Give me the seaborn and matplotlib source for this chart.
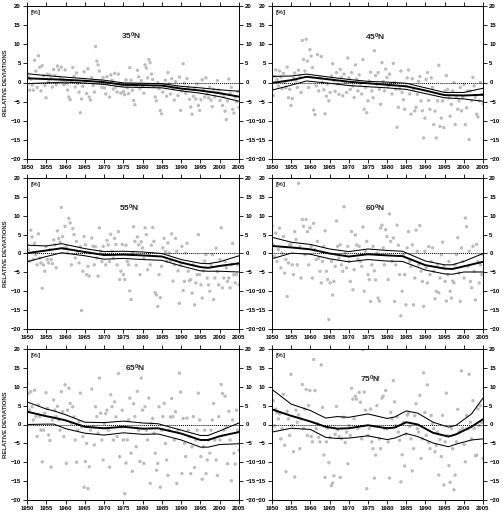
import numpy as np
import matplotlib
matplotlib.use("Agg")
import matplotlib.pyplot as plt
import seaborn as sns

# ---------------- data ----------------
titles = ["35", "45", "55", "60", "65", "75"]

# scatter values, ~3 per year 1950..2005
pts35 = [2.7, 1.5, -2.0, 0.9, -0.7, -2.0, 5.8, 3.0, -1.3, 7.0, 4.0, -2.2, 4.4, 1.8, -0.8,
         -4.0, 2.2, 0.2, 2.0, 1.0, -1.2, 3.4, 1.8, -0.6, 4.3, 3.3, 1.0, 4.0, 0.8, -0.6,
         3.3, -0.3, -2.0, -3.8, -4.5, 0.5, 3.9, 1.6, -1.2, 2.5, -0.2, -2.5, -7.9, -4.3, -1.0,
         2.8, 0.4, -2.9, 3.6, -3.8, -4.6, 1.3, -0.8, -2.5, 9.4, 5.6, 4.6, 3.0, 0.5, -1.3,
         1.3, -1.4, -3.0, 1.5, -0.3, -3.8, 2.0, 0.6, -1.7, 2.4, -1.2, -2.5, 2.2, -0.3, -2.8,
         -0.7, -2.4, -3.2, 0.7, -1.4, -2.9, 3.9, 0.6, -2.0, -4.7, -5.8, -0.8, 3.2, 1.5, -1.6,
         0.5, -1.0, -2.8, 4.6, 3.8, 1.2, 6.0, 5.2, 2.2, 0.8, -1.0, -3.8, -4.8, 0.0, -1.6,
         -7.3, -8.2, -2.5, -0.6, 0.6, -3.6, 2.6, -0.3, -3.0, 1.0, -1.6, -4.6, 0.2, -1.2, -3.4,
         1.4, -7.3, -2.2, 4.9, -0.2, -2.8, 1.0, -1.2, -4.4, -6.4, -8.3, -3.6, -1.4, -4.3, -0.4,
         -6.0, -7.3, -4.5, 0.7, -2.0, -3.8, 1.2, -3.0, -4.0, -1.2, -4.6, -6.3, -1.8, -3.8, -2.6,
         0.5, -2.0, -4.7, -2.9, -6.0, -3.7, -7.5, -9.7, -4.8, 0.9, -2.8, -1.3, -7.0, -8.0, -3.8,
         -5.0, -2.3, -6.5]
pts45 = [-1.8, -3.4, 1.6, 3.3, 0.8, -0.9, 3.0, 1.4, -1.6, 2.4, 0.0, -1.4, 4.0, -4.0, -1.8,
         -6.0, -4.2, 1.2, 2.5, 0.4, -1.3, 3.2, 1.8, -2.6, 11.0, 6.0, 3.0, 11.3, 5.6, -1.3,
         8.6, 6.9, 3.9, -7.2, -8.4, -0.9, 7.3, -2.2, 1.2, 6.8, 0.0, -1.9, -8.2, -3.6, -0.4,
         -4.8, -2.6, 1.7, 4.9, 0.4, -2.3, 2.6, -0.4, -3.1, 3.4, 1.3, -3.5, 2.2, 0.0, -2.6,
         6.4, 1.2, -1.8, 2.6, -0.9, -3.9, 4.6, 0.9, -2.2, 2.0, -0.4, -3.0, 6.0, -7.0, -1.3,
         -7.9, -4.8, 0.4, 2.7, -2.2, -4.0, 8.3, 1.8, -0.4, 2.6, -1.8, -5.7, 5.2, 0.3, -2.2,
         3.5, 1.3, -0.9, 2.2, -0.4, -3.0, 5.0, 0.0, -1.8, -11.7, -6.5, -1.7, 3.0, -2.6, -4.5,
         -7.0, -0.9, 1.2, 3.3, -3.0, -8.3, 1.0, -1.8, -7.4, -6.5, -3.1, 0.3, 1.6, -4.8, -7.4,
         -14.5, -9.3, 0.8, 2.6, -4.7, -7.0, 1.2, -1.3, -11.0, -7.5, -14.5, -4.8, 4.5, -11.5, -9.3,
         -4.8, -11.8, -2.2, 1.8, -1.8, -4.0, -8.8, -5.7, -2.2, 0.0, -11.0, -3.9, -7.0, -4.8, -1.3,
         -7.4, -3.9, -0.5, -11.0, -6.6, -2.2, -14.9, -2.2, -4.8, 1.3, -0.9, -3.9, -8.3, -9.0, -4.8,
         0.0, -3.1, -5.6]
pts55 = [2.3, 1.0, -2.0, 6.2, 4.4, -1.6, 2.7, -0.3, -3.0, 5.2, -1.2, -2.5, -9.2, -3.0, -4.7,
         1.9, -1.6, -2.5, 1.0, -1.6, -2.7, 3.6, 2.3, -3.8, 6.0, 4.0, 3.0, 12.2, 4.5, 1.4,
         7.2, 1.8, 0.1, 9.3, 8.1, -3.0, 6.6, 5.0, -1.2, 3.2, 0.5, -2.5, 1.8, -15.1, -4.7,
         4.5, 2.3, -5.6, -3.4, -6.0, 0.1, 4.1, 1.9, -3.0, 1.8, -1.2, -6.0, 6.8, 0.6, -2.1,
         1.9, -0.3, -3.0, 3.5, 2.3, -2.1, 5.1, 0.6, -1.2, 4.0, 2.4, -3.0, 5.8, -6.9, -4.7,
         2.4, -5.6, -6.9, 2.2, -2.1, -3.0, -9.9, -12.2, 0.2, 7.1, 3.2, -3.1, 4.4, 2.3, -5.6,
         3.1, 1.5, -1.2, 6.8, 5.0, -4.3, -0.4, -3.0, 2.2, 6.9, 3.2, -10.4, -11.0, -14.0, -5.6,
         -11.7, -3.4, 1.5, 4.0, 0.5, -2.1, 2.8, 0.1, -2.0, 5.2, -7.3, -3.0, 4.0, 0.6, -4.6,
         -13.2, -3.0, 1.9, -9.8, -7.4, 0.1, 2.7, -4.7, -7.2, -6.9, -10.5, -3.0, -13.6, -7.8, -5.6,
         5.0, -5.6, -8.3, -11.8, -4.6, -2.0, -0.3, -6.5, -8.3, -10.0, -3.0, -0.3, -12.2, -6.5, 1.4,
         -4.8, -8.3, -1.6, 6.8, -9.1, -6.5, -2.1, -3.8, -7.4, -6.5, -9.1, -3.0, 2.7, -5.6, -7.8,
         -5.6, -3.0, -8.3]
pts60 = [7.2, 2.3, -0.8, 5.4, -2.1, 1.0, 6.7, -3.8, 0.1, 4.5, -5.2, -1.6, -11.4, -2.5, 2.3,
         2.3, -3.0, -5.6, 5.8, 3.7, -3.0, 18.6, 1.8, -6.5, 9.0, 7.2, -0.3, 9.0, 5.8, -3.0,
         6.8, 1.9, -6.5, 8.0, 1.0, -1.6, 3.2, -1.2, -4.7, -7.8, -2.1, 1.9, 6.0, -4.7, -6.9,
         -17.5, -7.8, -2.1, -11.0, -7.4, -3.4, 8.6, 1.9, -1.2, 2.3, -3.0, -4.7, 12.4, 0.1, -3.8,
         1.9, -2.1, -7.4, 5.8, -9.6, -4.3, 4.9, 2.3, -1.6, 1.9, -2.1, -3.4, 7.0, -10.0, 0.6,
         3.2, -5.6, -6.9, -12.7, -3.0, 1.9, -4.6, -7.0, 0.1, -11.8, -12.6, 6.7, 7.5, 1.5, -3.0,
         6.3, 4.5, -6.9, 10.5, 3.2, -2.1, 4.1, -12.7, -3.0, 7.5, 2.2, -5.6, -16.5, -10.0, -0.3,
         -5.6, -13.6, 1.5, 5.8, -2.1, -3.4, 2.3, -13.6, -6.5, 6.2, 0.6, -3.0, 7.4, -4.7, -7.4,
         -14.0, 0.6, -3.8, -7.8, 1.8, -5.6, -2.1, 1.5, -4.7, -12.0, -10.0, -3.0, -10.4, -6.5, -0.3,
         3.0, -3.4, -7.4, -12.6, -5.6, -2.1, -10.0, -11.8, -7.3, -7.8, -3.0, -0.3, 4.2, -5.2, -12.7,
         1.5, -2.1, -6.5, 9.4, 7.1, -3.4, 0.6, -7.4, -9.1, 1.9, -4.7, -12.3, 2.4, -2.1, -7.8,
         -3.0, -5.6, -0.3]
pts65 = [10.8, 8.2, 3.8, 8.7, 4.7, 1.2, 9.1, 2.1, -3.2, 5.2, 2.1, -1.5, -9.9, -1.5, 3.0,
         8.4, 4.3, -2.8, -4.2, -11.3, 1.2, 6.5, 3.8, 2.1, 4.8, 1.2, -1.5, 8.7, 3.4, -3.2,
         10.5, -10.3, 3.8, 9.6, 5.6, 0.3, 4.7, 2.0, -4.1, -10.0, -1.5, 0.8, 8.3, -0.6, -3.2,
         -16.6, -9.8, -5.0, -17.0, -11.2, -1.5, 9.4, -0.6, -5.4, 4.7, 2.1, -2.3, 12.3, 3.0, -4.1,
         -9.4, 0.3, 2.9, 3.8, -1.5, -11.3, 7.9, 4.7, -4.1, 6.0, 2.0, -3.2, 13.5, -8.5, -0.6,
         3.8, -4.1, -18.3, -10.2, -4.1, 1.2, 7.0, -7.6, -12.4, 5.5, 2.1, -5.9, 8.8, -1.5, -9.8,
         12.3, 3.8, -10.3, 4.7, -1.5, -4.1, 7.0, -15.6, 0.3, 1.6, -2.3, -7.6, -12.1, -10.3, 4.7,
         -16.6, -1.5, 2.1, 5.6, -5.0, -9.4, -13.5, -1.5, 2.0, 6.9, 2.1, -4.1, 3.4, -15.6, -1.5,
         13.6, 8.6, -13.0, 1.6, -5.0, -8.5, 1.7, -1.5, -3.2, -13.0, -5.9, 2.1, -11.4, -4.1, -1.5,
         8.3, 1.2, -8.5, -14.5, -5.9, -1.5, -13.0, -9.4, -4.1, -7.6, -1.5, 1.2, 5.6, -4.1, -9.4,
         -13.5, 2.1, -4.1, 10.6, 8.2, -1.5, 7.5, -0.6, -10.4, 3.5, -4.1, -14.9, 1.2, -7.6, -10.5,
         3.8, -1.5, -6.8]
pts75 = [12.3, 6.3, -0.3, 4.1, 3.2, 1.5, 2.8, -3.8, -1.1, 8.0, -5.5, -12.5, 3.5, 1.5, -2.9,
         13.3, -0.3, -7.2, -13.9, 3.8, 0.6, 2.5, -6.4, 1.5, 10.6, -1.1, 4.1, 9.3, -2.9, 5.0,
         9.0, -3.2, -4.6, 17.2, 9.0, -1.1, 0.2, -3.4, -4.6, 15.8, 4.5, -8.1, -14.0, -4.6, -1.0,
         -10.1, -3.5, -16.2, -15.5, -13.6, -2.6, 4.8, -1.4, -3.2, -14.0, -3.8, 1.9, 1.9, -4.8, -2.0,
         -10.4, -0.3, -2.9, 9.6, 6.7, 1.5, 7.5, 6.7, -1.1, 8.5, 5.9, -3.8, 19.8, 8.6, 3.8,
         -17.0, -2.9, -1.1, 4.1, -4.6, -6.4, -14.2, -8.1, 5.0, 12.5, -3.8, -6.4, 7.0, 7.5, -1.1,
         9.0, -1.1, -4.6, -14.2, 3.2, 1.5, 11.6, 6.0, -0.3, 2.0, -2.0, -4.2, -15.2, -8.0, 0.5,
         -11.0, -2.5, 2.5, 3.0, -0.5, -3.8, -12.3, -6.4, 2.3, 5.5, -1.1, -2.0, 7.7, -9.0, -3.8,
         13.7, 3.2, -2.9, 10.5, -4.8, -6.4, 2.4, 0.2, -1.1, -7.2, -5.5, -2.0, -13.4, -4.0, -8.5,
         2.4, -16.0, -4.6, 8.3, -2.9, -10.9, -15.3, -1.1, -6.4, -17.3, -13.4, -4.6, 4.0, -2.0, -1.5,
         14.2, -1.0, -5.3, -9.9, 2.4, -1.1, 13.3, 0.6, -3.8, 6.3, -1.1, -8.3, -8.1, 4.1, -0.3,
         5.0, 0.5, -9.0]

# trend curve (thick) and confidence bounds (thin)
yrs35 = [1950, 1955, 1960, 1964, 1970, 1975, 1980, 1985, 1990, 1995, 2000, 2005]
up35 = [2.3, 1.8, 1.4, 1.1, 0.6, -0.1, -0.2, -0.3, -1.0, -1.4, -1.9, -2.3]
mid35 = [1.1, 0.9, 0.7, 0.5, 0.1, -0.6, -0.7, -0.8, -1.6, -2.1, -2.8, -3.7]
lo35 = [-0.3, -0.1, 0.1, -0.1, -0.5, -1.2, -1.3, -1.4, -2.2, -2.8, -3.7, -4.9]

yrs45 = [1950, 1955, 1959, 1965, 1970, 1975, 1980, 1985, 1990, 1995, 2000, 2005]
up45 = [1.6, 1.7, 2.2, 1.4, 0.8, 0.3, 0.1, -0.2, -1.4, -2.6, -2.6, -1.5]
mid45 = [-0.1, 0.6, 1.5, 0.8, 0.2, -0.2, -0.6, -1.0, -2.1, -3.3, -3.4, -3.2]
lo45 = [-2.0, -0.7, 0.4, -0.2, -0.8, -1.1, -1.4, -1.8, -2.9, -4.0, -4.3, -4.9]

yrs55 = [1950, 1955, 1959, 1965, 1970, 1975, 1980, 1985, 1990, 1995, 1997, 2000, 2005]
up55 = [2.2, 2.0, 2.6, 1.3, 0.5, 0.6, 0.4, 0.0, -1.6, -2.6, -2.7, -2.2, -0.6]
mid55 = [0.1, 0.8, 1.4, 0.4, -0.4, -0.3, -0.5, -0.8, -2.4, -3.6, -3.8, -3.3, -2.6]
lo55 = [-2.2, -0.8, 0.2, -0.6, -1.5, -1.3, -1.6, -1.8, -3.3, -4.6, -4.7, -4.7, -4.9]

yrs60 = [1950, 1955, 1960, 1965, 1970, 1975, 1980, 1984, 1990, 1995, 1997, 2000, 2005]
up60 = [4.3, 3.0, 2.4, 1.2, 0.5, 1.2, 0.8, 0.6, -2.0, -3.0, -3.0, -2.1, 0.0]
mid60 = [2.0, 1.6, 1.1, 0.0, -0.8, -0.2, -0.5, -0.7, -3.1, -4.0, -4.1, -3.4, -2.2]
lo60 = [-1.4, 0.1, -0.2, -1.4, -2.2, -1.6, -2.0, -2.1, -4.4, -5.4, -5.5, -4.9, -4.9]

yrs65 = [1950, 1955, 1957, 1960, 1965, 1970, 1975, 1980, 1984, 1990, 1995, 1997, 2000, 2005]
up65 = [6.0, 4.1, 3.6, 2.6, 0.6, 0.5, 0.9, 0.4, 0.2, -1.5, -2.9, -2.9, -1.7, 0.4]
mid65 = [3.4, 2.2, 1.8, 1.1, -0.6, -1.0, -0.6, -1.1, -1.0, -2.4, -4.1, -4.1, -3.1, -2.0]
lo65 = [0.0, 0.1, 0.1, -1.1, -2.3, -2.8, -2.2, -2.6, -2.5, -4.1, -6.0, -6.0, -5.3, -5.1]

yrs75 = [1950, 1955, 1960, 1964, 1967, 1970, 1975, 1980, 1982, 1985, 1988, 1992, 1996, 1998, 2002, 2005]
up75 = [9.3, 5.4, 3.7, 1.7, 2.1, 1.9, 2.8, 1.6, 2.0, 3.6, 3.0, 0.6, -0.7, -0.2, 2.8, 7.0]
mid75 = [4.0, 2.3, 0.8, -0.6, -1.1, -1.0, -0.2, -1.0, -0.8, 0.6, 0.0, -2.2, -3.2, -2.6, -0.6, 1.4]
lo75 = [-2.0, -1.0, -1.3, -3.4, -3.7, -3.6, -3.0, -4.0, -3.6, -2.4, -3.2, -4.9, -5.9, -5.2, -4.1, -3.8]

xticks = list(range(1950, 2006, 5))
yticks = list(range(-20, 21, 5))

panels = [
    (titles[0], pts35, yrs35, up35, mid35, lo35),
    (titles[1], pts45, yrs45, up45, mid45, lo45),
    (titles[2], pts55, yrs55, up55, mid55, lo55),
    (titles[3], pts60, yrs60, up60, mid60, lo60),
    (titles[4], pts65, yrs65, up65, mid65, lo65),
    (titles[5], pts75, yrs75, up75, mid75, lo75),
]

# ---------------- styling / layout ----------------
sns.set_theme(style="ticks")
plt.rcParams["font.family"] = ["Liberation Sans", "DejaVu Sans"]
plt.rcParams["font.weight"] = "bold"
plt.rcParams["mathtext.fontset"] = "custom"
plt.rcParams["mathtext.bf"] = "Liberation Sans:bold"
plt.rcParams["mathtext.rm"] = "Liberation Sans:bold"

W, H = 503, 515
fig = plt.figure(figsize=(W / 100, H / 100), dpi=100)

cols = [(27, 239), (272, 483)]
rows = [(6, 159), (178, 329), (349, 500)]
title_pos = [(1977, 12.0), (1977, 11.9), (1976.5, 12.0), (1977, 12.0), (1978, 15.0), (1975.5, 11.9)]

for i, (lat, pts, yrs, up, mid, lo) in enumerate(panels):
    r, c = divmod(i, 2)
    x0, x1 = cols[c]
    y0, y1 = rows[r]
    ax = fig.add_axes([x0 / W, 1 - y1 / H, (x1 - x0) / W, (y1 - y0) / H])

    xs = np.linspace(1950, 2005, len(pts))
    sns.scatterplot(x=xs, y=pts, ax=ax, s=6, color="#bcbcbc", edgecolor="none",
                    linewidth=0, zorder=1)
    ax.axhline(0, color="black", lw=0.7, ls=(0, (1, 1)), zorder=2)
    sns.lineplot(x=yrs, y=up, ax=ax, color="black", lw=0.75, zorder=3)
    sns.lineplot(x=yrs, y=lo, ax=ax, color="black", lw=0.75, zorder=3)
    sns.lineplot(x=yrs, y=mid, ax=ax, color="black", lw=1.4, zorder=4)

    ax.set_xlim(1950, 2005)
    ax.set_ylim(-20, 20)
    ax.set_xticks(xticks)
    ax.set_yticks(yticks)
    ax.tick_params(direction="out", length=3, width=0.6, labelsize=4.3, pad=1.5,
                   top=True, right=True, labelright=True, colors="black")
    for s in ax.spines.values():
        s.set_linewidth(0.7)
        s.set_color("black")

    tx, ty = title_pos[i]
    ax.text(tx, ty, r"$\mathbf{" + lat + r"^{0}N}$", ha="center", va="center", fontsize=6)
    ax.text(1951, 18.3, "[%]", fontsize=4.6, va="center", ha="left")

    if c == 0:
        ax.set_ylabel("RELATIVE DEVIATIONS", fontsize=4.3, fontweight="bold", labelpad=2)
    else:
        ax.set_ylabel("")
    ax.set_xlabel("")

fig.savefig("out.png", dpi=100)
